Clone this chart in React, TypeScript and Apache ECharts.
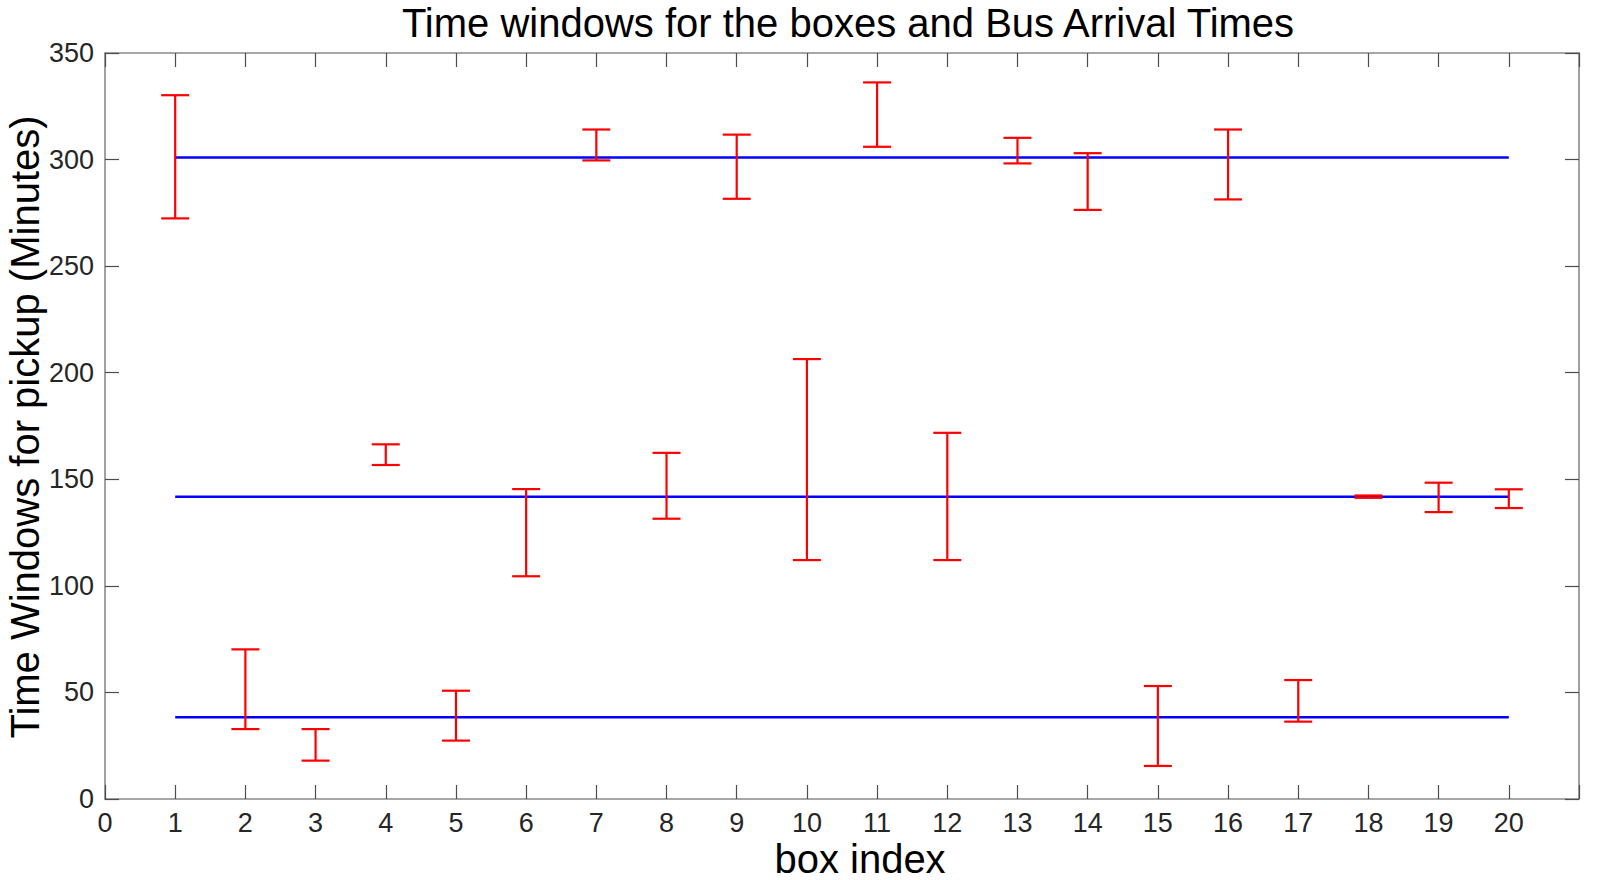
import React, { useEffect, useRef } from "react";
import * as echarts from "echarts";

const boxIndex = [1, 2, 3, 4, 5, 6, 7, 8, 9, 10, 11, 12, 13, 14, 15, 16, 17, 18, 19, 20];
const windowLow = [272.4, 32.8, 18.0, 156.7, 27.4, 104.5, 299.6, 131.5, 281.6, 112.1, 306.0, 112.1, 298.2, 276.4, 15.5, 281.3, 36.3, 141.3, 134.6, 136.5];
const windowHigh = [330.2, 70.2, 32.8, 166.4, 50.8, 145.4, 314.1, 162.4, 311.7, 206.4, 336.2, 171.8, 310.2, 303.0, 53.0, 314.1, 55.8, 142.4, 148.4, 145.3];
const busArrivalTimes = [301.0, 141.8, 38.3];
const busLineStart = 1;
const busLineEnd = 20;

const titleText = "Time windows for the boxes and Bus Arrival Times";
const xLabelText = "box index";
const yLabelText = "Time Windows for pickup (Minutes)";

const FONT = "'Liberation Sans', Arial, Helvetica, sans-serif";

export default function App() {
  const ref = useRef<HTMLDivElement>(null);
  useEffect(() => {
    if (!ref.current) return;
    const chart = echarts.init(ref.current, undefined, { renderer: "svg" });
    const errData = boxIndex.map((b, i) => [b, windowLow[i], windowHigh[i]]);
    const axisLineStyle = { color: "#8a8a8a", width: 1.6 };
    const tickStyle = { color: "#4d4d4d", width: 1.2 };
    const labelStyle = { color: "#262626", fontSize: 27, lineHeight: 27, fontFamily: FONT };

    const busSeries = busArrivalTimes.map((t, k) => ({
      type: "line",
      name: "bus" + k,
      xAxisIndex: 0,
      yAxisIndex: 0,
      data: [
        [busLineStart, t],
        [busLineEnd, t],
      ],
      symbol: "none",
      lineStyle: { color: "#0000ff", width: 2.5 },
      z: 3,
    }));

    chart.setOption({
      animation: false,
      backgroundColor: "#ffffff",
      grid: { left: 105, right: 41, top: 53, bottom: 81, containLabel: false },
      xAxis: [
        {
          type: "value",
          min: 0,
          max: 21,
          interval: 1,
          position: "bottom",
          axisLine: { show: true, onZero: false, lineStyle: axisLineStyle },
          axisTick: { show: true, inside: true, length: 14, lineStyle: tickStyle },
          axisLabel: {
            ...labelStyle,
            margin: 10,
            formatter: (v: number) => (v > 20 ? "" : String(v)),
          },
          splitLine: { show: false },
        },
        {
          type: "value",
          min: 0,
          max: 21,
          interval: 1,
          position: "top",
          axisLine: { show: true, onZero: false, lineStyle: axisLineStyle },
          axisTick: { show: true, inside: true, length: 14, lineStyle: tickStyle },
          axisLabel: { show: false },
          splitLine: { show: false },
        },
      ],
      yAxis: [
        {
          type: "value",
          min: 0,
          max: 350,
          interval: 50,
          position: "left",
          axisLine: { show: true, onZero: false, lineStyle: axisLineStyle },
          axisTick: { show: true, inside: true, length: 14, lineStyle: tickStyle },
          axisLabel: { ...labelStyle, margin: 11 },
          splitLine: { show: false },
        },
        {
          type: "value",
          min: 0,
          max: 350,
          interval: 50,
          position: "right",
          axisLine: { show: true, onZero: false, lineStyle: axisLineStyle },
          axisTick: { show: true, inside: true, length: 14, lineStyle: tickStyle },
          axisLabel: { show: false },
          splitLine: { show: false },
        },
      ],
      graphic: [
        {
          type: "text",
          x: 848,
          y: 23,
          style: {
            text: titleText,
            fill: "#000000",
            font: `40px ${FONT}`,
            textAlign: "center",
            textVerticalAlign: "middle",
          },
        },
        {
          type: "text",
          x: 860,
          y: 859,
          style: {
            text: xLabelText,
            fill: "#000000",
            fontSize: 40,
            lineHeight: 40,
            fontFamily: FONT,
            textAlign: "center",
            textVerticalAlign: "middle",
          },
        },
        {
          type: "text",
          x: 25,
          y: 427,
          rotation: Math.PI / 2,
          style: {
            text: yLabelText,
            fill: "#000000",
            font: `40px ${FONT}`,
            textAlign: "center",
            textVerticalAlign: "middle",
          },
        },
      ],
      series: [
        ...busSeries,
        {
          type: "line",
          name: "frame",
          xAxisIndex: 1,
          yAxisIndex: 1,
          data: [],
          silent: true,
        },
        {
          type: "custom",
          name: "windows",
          xAxisIndex: 0,
          yAxisIndex: 0,
          data: errData,
          encode: { x: 0, y: [1, 2] },
          z: 4,
          renderItem: (params: any, api: any) => {
            const x = api.value(0);
            const lo = api.coord([x, api.value(1)]);
            const hi = api.coord([x, api.value(2)]);
            const half = 14;
            const style = { stroke: "#ff0000", lineWidth: 2.2 };
            return {
              type: "group",
              children: [
                { type: "line", shape: { x1: lo[0], y1: lo[1], x2: hi[0], y2: hi[1] }, style },
                { type: "line", shape: { x1: hi[0] - half, y1: hi[1], x2: hi[0] + half, y2: hi[1] }, style },
                { type: "line", shape: { x1: lo[0] - half, y1: lo[1], x2: lo[0] + half, y2: lo[1] }, style },
              ],
            };
          },
        },
      ],
    });
    return () => chart.dispose();
  }, []);
  return (
    <div
      ref={ref}
      style={{ position: "fixed", left: 0, top: 0, width: 1620, height: 880, background: "#fff" }}
    />
  );
}
